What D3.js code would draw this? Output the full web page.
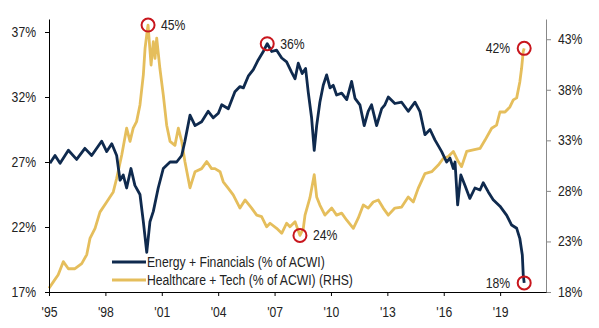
<!DOCTYPE html>
<html>
<head>
<meta charset="utf-8">
<script src="https://cdn.jsdelivr.net/npm/d3@7"></script>
<style>
  html, body { margin: 0; padding: 0; background: #fff; }
  text { font-family: "Liberation Sans", Arial, sans-serif; fill: #222; }
</style>
</head>
<body>
<div id="chart"></div>
<script>
// Energy + Financials share of ACWI (left axis), [decimal year, %]
const energyFinancials = [
  [1995.05, 26.9], [1995.32, 27.5], [1995.59, 26.9], [1996.03, 27.9], [1996.47, 27.2],
  [1996.91, 28.05], [1997.27, 27.5], [1997.80, 28.6], [1998.07, 27.8], [1998.34, 28.4],
  [1998.60, 27.5], [1998.78, 25.6], [1998.95, 26.0], [1999.13, 25.0], [1999.36, 26.5],
  [1999.57, 25.2], [1999.84, 24.5], [2000.02, 22.4], [2000.20, 20.05], [2000.37, 22.4],
  [2000.55, 23.2], [2000.81, 25.0], [2001.08, 26.5], [2001.44, 27.0], [2001.79, 27.0],
  [2002.06, 27.5], [2002.23, 28.6], [2002.50, 30.6], [2002.77, 29.8], [2003.12, 30.1],
  [2003.47, 30.9], [2003.74, 30.4], [2004.01, 30.75], [2004.19, 31.4], [2004.54, 31.1],
  [2004.89, 32.4], [2005.16, 32.8], [2005.34, 32.7], [2005.60, 33.6], [2005.87, 34.1],
  [2006.13, 34.85], [2006.40, 35.5], [2006.61, 36.1], [2006.85, 35.5], [2007.11, 35.6],
  [2007.38, 35.0], [2007.64, 34.7], [2007.91, 33.9], [2008.09, 33.4], [2008.26, 34.6],
  [2008.47, 33.8], [2008.65, 34.2], [2008.79, 32.4], [2008.97, 30.4], [2009.11, 27.9],
  [2009.24, 29.8], [2009.41, 31.6], [2009.59, 32.9], [2009.77, 33.7], [2009.95, 32.7],
  [2010.12, 32.9], [2010.30, 32.15], [2010.57, 32.3], [2010.84, 31.8], [2011.10, 33.2],
  [2011.28, 31.9], [2011.54, 31.4], [2011.77, 29.8], [2011.98, 30.9], [2012.16, 31.4],
  [2012.43, 29.8], [2012.70, 31.1], [2012.87, 31.4], [2013.05, 32.0], [2013.40, 31.5],
  [2013.76, 31.6], [2014.11, 30.9], [2014.47, 31.6], [2014.73, 30.9], [2015.00, 29.1],
  [2015.27, 29.5], [2015.53, 28.7], [2015.89, 27.8], [2016.15, 27.0], [2016.33, 27.3],
  [2016.51, 26.5], [2016.60, 27.0], [2016.74, 23.7], [2016.91, 26.0], [2017.13, 25.2],
  [2017.39, 24.2], [2017.66, 25.0], [2017.93, 24.85], [2018.10, 25.4], [2018.37, 24.7],
  [2018.63, 24.1], [2018.99, 23.6], [2019.35, 22.9], [2019.61, 22.15], [2019.88, 21.9],
  [2020.05, 21.1], [2020.18, 19.85], [2020.23, 18.3], [2020.28, 17.7]
];

// Healthcare + Tech share of ACWI (right axis), [decimal year, %]
const healthcareTech = [
  [1995.00, 18.37], [1995.23, 19.0], [1995.49, 19.7], [1995.76, 21.0], [1996.03, 20.3],
  [1996.38, 20.3], [1996.74, 20.8], [1997.01, 21.7], [1997.18, 23.3], [1997.45, 24.3],
  [1997.71, 25.9], [1998.07, 26.9], [1998.42, 27.9], [1998.60, 29.25], [1998.87, 31.55],
  [1999.13, 34.2], [1999.31, 32.9], [1999.48, 34.2], [1999.66, 34.85], [1999.84, 36.5],
  [2000.02, 39.5], [2000.11, 42.1], [2000.23, 43.9], [2000.27, 44.4], [2000.43, 40.45],
  [2000.55, 42.75], [2000.64, 41.1], [2000.73, 43.1], [2000.90, 40.1], [2001.08, 37.5],
  [2001.26, 34.5], [2001.44, 32.9], [2001.70, 32.5], [2001.88, 34.2], [2002.06, 32.9],
  [2002.23, 30.9], [2002.50, 28.3], [2002.77, 29.9], [2003.12, 30.2], [2003.39, 30.9],
  [2003.65, 30.2], [2003.83, 30.2], [2004.10, 29.9], [2004.27, 28.9], [2004.54, 28.25],
  [2004.80, 27.6], [2005.16, 26.3], [2005.43, 27.1], [2005.78, 26.3], [2006.05, 25.6],
  [2006.31, 25.45], [2006.58, 24.45], [2006.76, 24.8], [2007.11, 24.3], [2007.38, 23.8],
  [2007.64, 24.8], [2007.82, 24.45], [2008.09, 24.95], [2008.35, 23.6], [2008.53, 24.3],
  [2008.62, 25.6], [2008.88, 27.3], [2009.11, 29.6], [2009.24, 27.4], [2009.41, 26.6],
  [2009.68, 25.6], [2010.04, 26.3], [2010.30, 25.6], [2010.57, 25.8], [2010.84, 25.1],
  [2011.19, 24.3], [2011.45, 25.3], [2011.72, 26.6], [2011.98, 26.3], [2012.25, 26.9],
  [2012.52, 27.1], [2012.78, 26.3], [2013.05, 25.6], [2013.40, 26.3], [2013.76, 26.4],
  [2014.11, 27.4], [2014.38, 26.9], [2014.64, 28.25], [2015.00, 29.7], [2015.36, 29.9],
  [2015.71, 30.55], [2015.97, 31.2], [2016.24, 31.4], [2016.51, 31.9], [2016.77, 30.9],
  [2016.95, 30.4], [2017.22, 31.9], [2017.57, 32.05], [2017.93, 32.2], [2018.19, 33.0],
  [2018.55, 34.2], [2018.81, 34.5], [2018.99, 35.8], [2019.26, 35.8], [2019.52, 36.3],
  [2019.70, 37.0], [2019.88, 37.2], [2020.05, 38.8], [2020.14, 40.1], [2020.23, 41.8],
  [2020.28, 42.1]
];

const xTicks = [1995, 1998, 2001, 2004, 2007, 2010, 2013, 2016, 2019];
const leftTicks = [17, 22, 27, 32, 37];
const rightTicks = [18, 23, 28, 33, 38, 43];
const seriesNames = ["Energy + Financials (% of ACWI)", "Healthcare + Tech (% of ACWI) (RHS)"];

// highlighted points: series, year, value, label
const callouts = [
  {series: "ht", year: 2000.27, value: 44.4, label: "45%", side: "right"},
  {series: "ef", year: 2006.61, value: 36.1, label: "36%", side: "right"},
  {series: "ht", year: 2020.28, value: 42.1, label: "42%", side: "left"},
  {series: "ht", year: 2008.35, value: 23.6, label: "24%", side: "right"},
  {series: "ef", year: 2020.28, value: 17.7, label: "18%", side: "left"}
];

const navy = "#0f2a4e";
const gold = "#e5be5c";

const width = 599, height = 328;
const margin = {top: 19, right: 53, bottom: 36, left: 49};

const svg = d3.select("#chart").append("svg")
  .attr("width", width)
  .attr("height", height);

const xScale = d3.scaleLinear()
  .domain([1995, 2021.44])
  .range([margin.left, width - margin.right]);

const yLeft = d3.scaleLinear()
  .domain([17, 38])
  .range([height - margin.bottom, margin.top]);

const yRight = d3.scaleLinear()
  .domain([18, 45])
  .range([height - margin.bottom, margin.top]);

// legend background
const legendX = 112, legendY = 262;
svg.append("rect")
  .attr("x", legendX - 2).attr("y", legendY - 8)
  .attr("width", 250).attr("height", 34)
  .attr("fill", "#fff");

// lines
const htLine = d3.line().x(d => xScale(d[0])).y(d => yRight(d[1]));
const efLine = d3.line().x(d => xScale(d[0])).y(d => yLeft(d[1]));

svg.append("path")
  .datum(healthcareTech)
  .attr("d", htLine)
  .attr("fill", "none")
  .attr("stroke", gold)
  .attr("stroke-width", 2.8)
  .attr("stroke-linejoin", "round");

svg.append("path")
  .datum(energyFinancials)
  .attr("d", efLine)
  .attr("fill", "none")
  .attr("stroke", navy)
  .attr("stroke-width", 2.8)
  .attr("stroke-linejoin", "round");

// axes
const xAxis = svg.append("g")
  .attr("transform", `translate(0,${height - margin.bottom})`)
  .call(d3.axisBottom(xScale)
    .tickValues(xTicks)
    .tickFormat(d => "'" + String(d).slice(2))
    .tickSize(4).tickSizeOuter(0).tickPadding(11));

const leftAxis = svg.append("g")
  .attr("transform", `translate(${margin.left},0)`)
  .call(d3.axisLeft(yLeft)
    .tickValues(leftTicks)
    .tickFormat(d => d + "%")
    .tickSize(4).tickSizeOuter(0).tickPadding(9));

const rightAxis = svg.append("g")
  .attr("transform", `translate(${width - margin.right},0)`)
  .call(d3.axisRight(yRight)
    .tickValues(rightTicks)
    .tickFormat(d => d + "%")
    .tickSize(5).tickSizeOuter(0).tickPadding(7));

[xAxis, leftAxis, rightAxis].forEach(g => {
  g.selectAll("text").style("font-size", "14px").attr("fill", "#222");
});
xAxis.selectAll("path, line").attr("stroke", "#000");
leftAxis.selectAll("path, line").attr("stroke", "#000");
rightAxis.selectAll("path, line").attr("stroke", "#888");
xAxis.raise();

// callouts
callouts.forEach(c => {
  const cx = xScale(c.year);
  const cy = c.series === "ht" ? yRight(c.value) : yLeft(c.value);
  svg.append("circle")
    .attr("cx", cx).attr("cy", cy).attr("r", 6.5)
    .attr("fill", "none")
    .attr("stroke", "#c8161d")
    .attr("stroke-width", 2);
  svg.append("text")
    .attr("x", c.side === "right" ? cx + 13 : cx - 14)
    .attr("y", cy)
    .attr("dy", "0.35em")
    .attr("text-anchor", c.side === "right" ? "start" : "end")
    .style("font-size", "14px")
    .text(c.label);
});

// legend
[navy, gold].forEach((col, i) => {
  const y = legendY + i * 18;
  svg.append("line")
    .attr("x1", legendX).attr("x2", legendX + 34)
    .attr("y1", y).attr("y2", y)
    .attr("stroke", col)
    .attr("stroke-width", 3);
  svg.append("text")
    .attr("x", legendX + 35)
    .attr("y", y)
    .attr("dy", "0.35em")
    .style("font-size", "14px")
    .text(seriesNames[i]);
});

// the reference type is a little narrower than regular Arial
svg.selectAll("text").each(function () {
  const w = this.getComputedTextLength();
  d3.select(this).attr("textLength", w * 0.87).attr("lengthAdjust", "spacingAndGlyphs");
});
</script>
</body>
</html>
